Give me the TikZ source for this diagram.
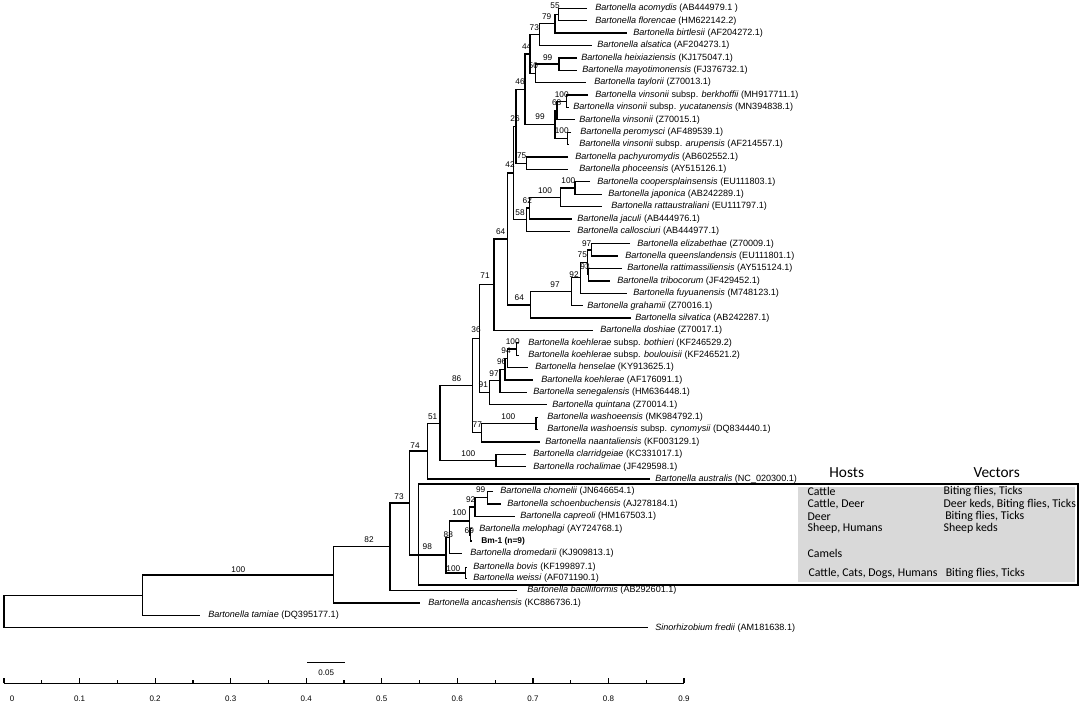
\documentclass[tikz,border=0pt]{standalone}
\usepackage{fontspec}
\setmainfont{Liberation Sans}
\newfontfamily\hostfont{Carlito}
\definecolor{boxgrey}{RGB}{217,217,217}

\begin{document}
\begin{tikzpicture}[x=0.75pt,y=0.75pt,yscale=-1,xscale=1,
  branch/.style={line width=1pt},
  taxon/.style={anchor=west,inner sep=0pt,font=\fontsize{6.8}{7}\selectfont},
  boot/.style={inner sep=0pt,font=\fontsize{6.2}{7}\selectfont},
  axislabel/.style={inner sep=0pt,font=\fontsize{6}{7}\selectfont},
  hostcell/.style={anchor=west,inner sep=0pt,font=\hostfont\fontsize{8.9}{10}\selectfont},
  hosthead/.style={inner sep=0pt,font=\hostfont\fontsize{11.5}{13}\selectfont}]

\useasboundingbox (0,0) rectangle (1084,705);
\fill[white] (0,0) rectangle (1084,705);

%Shape: Host box
\fill[boxgrey] (798.3,486.5) rectangle (1075,582);
\draw[line width=1pt] (418.3,484) rectangle (1078,585);

%Shape: Leaf tips
\coordinate (acomydis) at (587,8.3);
\coordinate (florencae) at (587,20.7);
\coordinate (birtlesii) at (627,33.1);
\coordinate (alsatica) at (592,45.5);
\coordinate (heixiaziensis) at (577,57.9);
\coordinate (mayotimonensis) at (577,70.3);
\coordinate (taylorii) at (586,82.6);
\coordinate (berkhoffii) at (588,95);
\coordinate (yucatanensis) at (568.5,107.4);
\coordinate (vinsonii) at (575,119.8);
\coordinate (peromysci) at (571,132.2);
\coordinate (arupensis) at (569,144.6);
\coordinate (pachyuromydis) at (568,157);
\coordinate (phoceensis) at (568,169.4);
\coordinate (coopersplainsensis) at (590,181.8);
\coordinate (japonica) at (602,194.2);
\coordinate (rattaustraliani) at (602,206.5);
\coordinate (jaculi) at (572,218.9);
\coordinate (callosciuri) at (570,231.3);
\coordinate (elizabethae) at (630,243.7);
\coordinate (queenslandensis) at (618,256.1);
\coordinate (rattimassiliensis) at (622,268.5);
\coordinate (tribocorum) at (610,280.9);
\coordinate (fuyuanensis) at (627,293.3);
\coordinate (grahamii) at (583,305.7);
\coordinate (silvatica) at (631,318.1);
\coordinate (doshiae) at (593,330.5);
\coordinate (bothieri) at (519,342.8);
\coordinate (boulouisii) at (519,355.2);
\coordinate (henselae) at (528,367.6);
\coordinate (koehlerae) at (533,380);
\coordinate (senegalensis) at (527,392.4);
\coordinate (quintana) at (547,404.8);
\coordinate (washoeensis) at (538,417.2);
\coordinate (cynomysii) at (538,429.6);
\coordinate (naantaliensis) at (540,442);
\coordinate (clarridgeiae) at (526,454.4);
\coordinate (rochalimae) at (526,466.8);
\coordinate (australis) at (650,479.1);
\coordinate (chomelii) at (493,491.5);
\coordinate (schoenbuchensis) at (501,503.9);
\coordinate (capreoli) at (515,516.3);
\coordinate (melophagi) at (471.5,528.7);
\coordinate (bmone) at (471.5,541.1);
\coordinate (dromedarii) at (462,553.5);
\coordinate (bovis) at (466.5,567.5);
\coordinate (weissi) at (466.5,578.2);
\coordinate (bacilliformis) at (517,590.6);
\coordinate (ancashensis) at (420,603);
\coordinate (tamiae) at (200,615.4);
\coordinate (sinorhizobium) at (648,627.8);

%Shape: Internal nodes
\coordinate (n55) at (558.3,14.5);
\coordinate (n79) at (555,23.8);
\coordinate (n73a) at (539.3,34.7);
\coordinate (n99h) at (559,64.1);
\coordinate (n50) at (535.7,73.4);
\coordinate (n44) at (530,54);
\coordinate (n100b) at (566.7,101.2);
\coordinate (n68) at (557,110.5);
\coordinate (n100p) at (567.7,138.4);
\coordinate (n99v) at (555,124.5);
\coordinate (n46) at (525,89.2);
\coordinate (n75) at (526.7,163.2);
\coordinate (n26) at (516,126.2);
\coordinate (n100c) at (575,188);
\coordinate (n100r) at (560.7,197.3);
\coordinate (n62) at (529.3,208.1);
\coordinate (n58) at (526.7,219.7);
\coordinate (n42) at (513.5,173);
\coordinate (n97e) at (591.7,249.9);
\coordinate (n93) at (588.3,274.7);
\coordinate (n75e) at (587.3,262.3);
\coordinate (n92) at (580.7,277.8);
\coordinate (n97g) at (571.7,291.8);
\coordinate (n64b) at (530.7,304.9);
\coordinate (n64u) at (507.3,238.9);
\coordinate (n71) at (494,284.7);
\coordinate (n100k) at (516.7,349);
\coordinate (n94) at (507.3,358.3);
\coordinate (n96) at (505,369.2);
\coordinate (n97k) at (500,380.8);
\coordinate (n91) at (489.3,392.8);
\coordinate (n36) at (479.3,338.8);
\coordinate (n100w) at (536,423.4);
\coordinate (n77) at (481.7,432.7);
\coordinate (n86) at (472.7,385.7);
\coordinate (n100cl) at (496,460.6);
\coordinate (n51) at (440,423.2);
\coordinate (n74) at (427.7,451.1);
\coordinate (n99c) at (487.3,497.7);
\coordinate (n92c) at (475,507);
\coordinate (n69) at (470.5,534.9);
\coordinate (n100m) at (469.5,521);
\coordinate (n88) at (449.3,537.2);
\coordinate (n100bw) at (465.5,572.9);
\coordinate (n98) at (446,555);
\coordinate (n73) at (409.3,503.1);
\coordinate (n82) at (390,546.8);
\coordinate (n100a) at (333.3,574.9);
\coordinate (n100t) at (142.7,595.2);
\coordinate (root) at (4,611.5);

%Shape: Branches
\draw[branch] (acomydis) -| (n55) |- (florencae);
\draw[branch] (n55) -| (n79) |- (birtlesii);
\draw[branch] (n79) -| (n73a) |- (alsatica);
\draw[branch] (heixiaziensis) -| (n99h) |- (mayotimonensis);
\draw[branch] (n99h) -| (n50) |- (taylorii);
\draw[branch] (n73a) -| (n44) |- (n50);
\draw[branch] (berkhoffii) -| (n100b) |- (yucatanensis);
\draw[branch] (n100b) -| (n68) |- (vinsonii);
\draw[branch] (peromysci) -| (n100p) |- (arupensis);
\draw[branch] (n68) -| (n99v) |- (n100p);
\draw[branch] (n44) -| (n46) |- (n99v);
\draw[branch] (pachyuromydis) -| (n75) |- (phoceensis);
\draw[branch] (n46) -| (n26) |- (n75);
\draw[branch] (coopersplainsensis) -| (n100c) |- (japonica);
\draw[branch] (n100c) -| (n100r) |- (rattaustraliani);
\draw[branch] (n100r) -| (n62) |- (jaculi);
\draw[branch] (n62) -| (n58) |- (callosciuri);
\draw[branch] (n26) -| (n42) |- (n58);
\draw[branch] (elizabethae) -| (n97e) |- (queenslandensis);
\draw[branch] (rattimassiliensis) -| (n93) |- (tribocorum);
\draw[branch] (n97e) -| (n75e) |- (n93);
\draw[branch] (n75e) -| (n92) |- (fuyuanensis);
\draw[branch] (n92) -| (n97g) |- (grahamii);
\draw[branch] (n97g) -| (n64b) |- (silvatica);
\draw[branch] (n42) -| (n64u) |- (n64b);
\draw[branch] (n64u) -| (n71) |- (doshiae);
\draw[branch] (bothieri) -| (n100k) |- (boulouisii);
\draw[branch] (n100k) -| (n94) |- (henselae);
\draw[branch] (n94) -| (n96) |- (koehlerae);
\draw[branch] (n96) -| (n97k) |- (senegalensis);
\draw[branch] (n97k) -| (n91) |- (quintana);
\draw[branch] (n71) -| (n36) |- (n91);
\draw[branch] (washoeensis) -| (n100w) |- (cynomysii);
\draw[branch] (n100w) -| (n77) |- (naantaliensis);
\draw[branch] (n36) -| (n86) |- (n77);
\draw[branch] (clarridgeiae) -| (n100cl) |- (rochalimae);
\draw[branch] (n86) -| (n51) |- (n100cl);
\draw[branch] (n51) -| (n74) |- (australis);
\draw[branch] (chomelii) -| (n99c) |- (schoenbuchensis);
\draw[branch] (n99c) -| (n92c) |- (capreoli);
\draw[branch] (melophagi) -| (n69) |- (bmone);
\draw[branch] (n92c) -| (n100m) |- (n69);
\draw[branch] (n100m) -| (n88) |- (dromedarii);
\draw[branch] (bovis) -| (n100bw) |- (weissi);
\draw[branch] (n88) -| (n98) |- (n100bw);
\draw[branch] (n74) -| (n73) |- (n98);
\draw[branch] (n73) -| (n82) |- (bacilliformis);
\draw[branch] (n82) -| (n100a) |- (ancashensis);
\draw[branch] (n100a) -| (n100t) |- (tamiae);
\draw[branch] (n100t) -| (root) |- (sinorhizobium);

% Text Node
\node[taxon] (acomydis-txt) at (595,8.3) {\textit{Bartonella acomydis} (AB444979.1 )};
\node[taxon] (florencae-txt) at (595,20.7) {\textit{Bartonella florencae} (HM622142.2)};
\node[taxon] (birtlesii-txt) at (633,33.1) {\textit{Bartonella birtlesii} (AF204272.1)};
\node[taxon] (alsatica-txt) at (597,45.5) {\textit{Bartonella alsatica} (AF204273.1)};
\node[taxon] (heixiaziensis-txt) at (581,57.9) {\textit{Bartonella heixiaziensis} (KJ175047.1)};
\node[taxon] (mayotimonensis-txt) at (582,70.3) {\textit{Bartonella mayotimonensis} (FJ376732.1)};
\node[taxon] (taylorii-txt) at (594,82.6) {\textit{Bartonella taylorii} (Z70013.1)};
\node[taxon] (berkhoffii-txt) at (595,95) {\textit{Bartonella vinsonii} subsp. \textit{berkhoffii} (MH917711.1)};
\node[taxon] (yucatanensis-txt) at (573,107.4) {\textit{Bartonella vinsonii} subsp. \textit{yucatanensis} (MN394838.1)};
\node[taxon] (vinsonii-txt) at (579,119.8) {\textit{Bartonella vinsonii} (Z70015.1)};
\node[taxon] (peromysci-txt) at (580,132.2) {\textit{Bartonella peromysci} (AF489539.1)};
\node[taxon] (arupensis-txt) at (579,144.6) {\textit{Bartonella vinsonii} subsp. \textit{arupensis} (AF214557.1)};
\node[taxon] (pachyuromydis-txt) at (575,157) {\textit{Bartonella pachyuromydis} (AB602552.1)};
\node[taxon] (phoceensis-txt) at (579,169.4) {\textit{Bartonella phoceensis} (AY515126.1)};
\node[taxon] (coopersplainsensis-txt) at (597,181.8) {\textit{Bartonella coopersplainsensis} (EU111803.1)};
\node[taxon] (japonica-txt) at (608,194.2) {\textit{Bartonella japonica} (AB242289.1)};
\node[taxon] (rattaustraliani-txt) at (611,206.5) {\textit{Bartonella rattaustraliani} (EU111797.1)};
\node[taxon] (jaculi-txt) at (577,218.9) {\textit{Bartonella jaculi} (AB444976.1)};
\node[taxon] (callosciuri-txt) at (577,231.3) {\textit{Bartonella callosciuri} (AB444977.1)};
\node[taxon] (elizabethae-txt) at (637,243.7) {\textit{Bartonella elizabethae} (Z70009.1)};
\node[taxon] (queenslandensis-txt) at (625,256.1) {\textit{Bartonella queenslandensis} (EU111801.1)};
\node[taxon] (rattimassiliensis-txt) at (627,268.5) {\textit{Bartonella rattimassiliensis} (AY515124.1)};
\node[taxon] (tribocorum-txt) at (617,280.9) {\textit{Bartonella tribocorum} (JF429452.1)};
\node[taxon] (fuyuanensis-txt) at (633,293.3) {\textit{Bartonella fuyuanensis} (M748123.1)};
\node[taxon] (grahamii-txt) at (587,305.7) {\textit{Bartonella grahamii} (Z70016.1)};
\node[taxon] (silvatica-txt) at (635,318.1) {\textit{Bartonella silvatica} (AB242287.1)};
\node[taxon] (doshiae-txt) at (600,330.5) {\textit{Bartonella doshiae} (Z70017.1)};
\node[taxon] (bothieri-txt) at (528,342.8) {\textit{Bartonella koehlerae} subsp. \textit{bothieri} (KF246529.2)};
\node[taxon] (boulouisii-txt) at (528,355.2) {\textit{Bartonella koehlerae} subsp. \textit{boulouisii} (KF246521.2)};
\node[taxon] (henselae-txt) at (535,367.6) {\textit{Bartonella henselae} (KY913625.1)};
\node[taxon] (koehlerae-txt) at (541,380) {\textit{Bartonella koehlerae} (AF176091.1)};
\node[taxon] (senegalensis-txt) at (533,392.4) {\textit{Bartonella senegalensis} (HM636448.1)};
\node[taxon] (quintana-txt) at (552,404.8) {\textit{Bartonella quintana} (Z70014.1)};
\node[taxon] (washoeensis-txt) at (547,417.2) {\textit{Bartonella washoeensis} (MK984792.1)};
\node[taxon] (cynomysii-txt) at (547,429.6) {\textit{Bartonella washoensis} subsp. \textit{cynomysii} (DQ834440.1)};
\node[taxon] (naantaliensis-txt) at (545,442) {\textit{Bartonella naantaliensis} (KF003129.1)};
\node[taxon] (clarridgeiae-txt) at (533,454.4) {\textit{Bartonella clarridgeiae} (KC331017.1)};
\node[taxon] (rochalimae-txt) at (533,466.8) {\textit{Bartonella rochalimae} (JF429598.1)};
\node[taxon] (australis-txt) at (655,479.1) {\textit{Bartonella australis} (NC\_020300.1)};
\node[taxon] (chomelii-txt) at (500,491.5) {\textit{Bartonella chomelii} (JN646654.1)};
\node[taxon] (schoenbuchensis-txt) at (507,503.9) {\textit{Bartonella schoenbuchensis} (AJ278184.1)};
\node[taxon] (capreoli-txt) at (520,516.3) {\textit{Bartonella capreoli} (HM167503.1)};
\node[taxon] (melophagi-txt) at (479,528.7) {\textit{Bartonella melophagi} (AY724768.1)};
\node[taxon,font=\fontsize{6.3}{7}\selectfont\bfseries] (bmone-txt) at (481,541.1) {Bm-1 (n=9)};
\node[taxon] (dromedarii-txt) at (470,553.5) {\textit{Bartonella dromedarii} (KJ909813.1)};
\node[taxon] (bovis-txt) at (473,567.5) {\textit{Bartonella bovis} (KF199897.1)};
\node[taxon] (weissi-txt) at (473,578.2) {\textit{Bartonella weissi} (AF071190.1)};
\node[taxon] (bacilliformis-txt) at (527,590.6) {\textit{Bartonella bacilliformis} (AB292601.1)};
\node[taxon] (ancashensis-txt) at (428,603) {\textit{Bartonella ancashensis} (KC886736.1)};
\node[taxon] (tamiae-txt) at (208,615.4) {\textit{Bartonella tamiae} (DQ395177.1)};
\node[taxon] (sinorhizobium-txt) at (655,627.8) {\textit{Sinorhizobium fredii} (AM181638.1)};

% Text Node
\node[boot] (b55) at (555,6) {55};
\node[boot] (b79) at (546.7,16.7) {79};
\node[boot] (b73a) at (534.3,27.3) {73};
\node[boot] (b44) at (526.7,46.7) {44};
\node[boot] (b99h) at (547.7,57.3) {99};
\node[boot] (b50) at (533.3,66) {50};
\node[boot] (b46) at (520,81.7) {46};
\node[boot] (b100b) at (561.7,94.3) {100};
\node[boot] (b68) at (556.7,102.7) {68};
\node[boot] (b99v) at (540,116.7) {99};
\node[boot] (b100p) at (561.7,131) {100};
\node[boot] (b26) at (515,118.3) {26};
\node[boot] (b75) at (521.7,156) {75};
\node[boot] (b42) at (510,165) {42};
\node[boot] (b100c) at (568.3,180.7) {100};
\node[boot] (b100r) at (545,190.7) {100};
\node[boot] (b62) at (527.3,200.7) {62};
\node[boot] (b58) at (520,212.7) {58};
\node[boot] (b64u) at (500.7,231.7) {64};
\node[boot] (b97e) at (586.7,243.3) {97};
\node[boot] (b75e) at (582.3,255) {75};
\node[boot] (b93) at (585,266.7) {93};
\node[boot] (b92) at (574,274.3) {92};
\node[boot] (b97g) at (555,285) {97};
\node[boot] (b64b) at (519.3,297.7) {64};
\node[boot] (b71) at (485,276) {71};
\node[boot] (b36) at (476,329.3) {36};
\node[boot] (b100k) at (512.7,341.7) {100};
\node[boot] (b94) at (506,350.7) {94};
\node[boot] (b96) at (501.7,361.7) {96};
\node[boot] (b97k) at (494,373.3) {97};
\node[boot] (b91) at (483.3,385) {91};
\node[boot] (b86) at (456.7,378.3) {86};
\node[boot] (b100w) at (508.3,416.7) {100};
\node[boot] (b77) at (477.3,425) {77};
\node[boot] (b51) at (432.7,416.7) {51};
\node[boot] (b100cl) at (468.3,453.3) {100};
\node[boot] (b74) at (415,446) {74};
\node[boot] (b99c) at (480.7,490) {99};
\node[boot] (b92c) at (470.7,500) {92};
\node[boot] (b100m) at (459.3,512.7) {100};
\node[boot] (b69) at (469.3,530.7) {69};
\node[boot] (b88) at (448.3,535) {88};
\node[boot] (b98) at (427.3,546.7) {98};
\node[boot] (b100bw) at (453.3,568.3) {100};
\node[boot] (b73) at (399,496.5) {73};
\node[boot] (b82) at (369,540) {82};
\node[boot] (b100a) at (238.3,570) {100};

% Text Node
\node[hosthead] (hosts) at (846.7,473) {Hosts};
\node[hosthead] (vectors) at (996.7,473) {Vectors};
\node[hostcell] (h1) at (807.3,491.5) {Cattle};
\node[hostcell] (h2) at (807.3,503.9) {Cattle, Deer};
\node[hostcell] (h3) at (807.3,516.3) {Deer};
\node[hostcell] (h4) at (807.3,528.7) {Sheep, Humans};
\node[hostcell] (h5) at (807.3,553.5) {Camels};
\node[hostcell] (h6) at (808.3,572.9) {Cattle, Cats, Dogs, Humans};
\node[hostcell] (v1) at (943.3,491.5) {Biting flies, Ticks};
\node[hostcell] (v2) at (943.3,503.9) {Deer keds, Biting flies, Ticks};
\node[hostcell] (v3) at (945,516.3) {Biting flies, Ticks};
\node[hostcell] (v4) at (943.3,528.7) {Sheep keds};
\node[hostcell] (v6) at (945.5,572.9) {Biting flies, Ticks};

%Shape: Scale bar
\draw[line width=0.9pt] (307.3,662.7) -- (345,662.7);
\node[axislabel] (scalebar) at (326.2,673) {0.05};

%Shape: Axis
\draw[line width=0.9pt] (4,683.3) -- (684,683.3)
  (4,683.3) -- (4,678.3) (41.8,683.3) -- (41.8,679.8)
  (79.6,683.3) -- (79.6,678.3) (117.3,683.3) -- (117.3,679.8)
  (155.1,683.3) -- (155.1,678.3) (192.9,683.3) -- (192.9,679.8)
  (230.7,683.3) -- (230.7,678.3) (268.4,683.3) -- (268.4,679.8)
  (306.2,683.3) -- (306.2,678.3) (344,683.3) -- (344,679.8)
  (381.8,683.3) -- (381.8,678.3) (419.6,683.3) -- (419.6,679.8)
  (457.3,683.3) -- (457.3,678.3) (495.1,683.3) -- (495.1,679.8)
  (532.9,683.3) -- (532.9,678.3) (570.7,683.3) -- (570.7,679.8)
  (608.4,683.3) -- (608.4,678.3) (646.2,683.3) -- (646.2,679.8)
  (684,683.3) -- (684,678.3);
\node[axislabel] (x0) at (12,699) {0};
\node[axislabel] (x1) at (79.6,699) {0.1};
\node[axislabel] (x2) at (155.1,699) {0.2};
\node[axislabel] (x3) at (230.7,699) {0.3};
\node[axislabel] (x4) at (306.2,699) {0.4};
\node[axislabel] (x5) at (381.8,699) {0.5};
\node[axislabel] (x6) at (457.3,699) {0.6};
\node[axislabel] (x7) at (532.9,699) {0.7};
\node[axislabel] (x8) at (608.4,699) {0.8};
\node[axislabel] (x9) at (684,699) {0.9};

\end{tikzpicture}
\end{document}
